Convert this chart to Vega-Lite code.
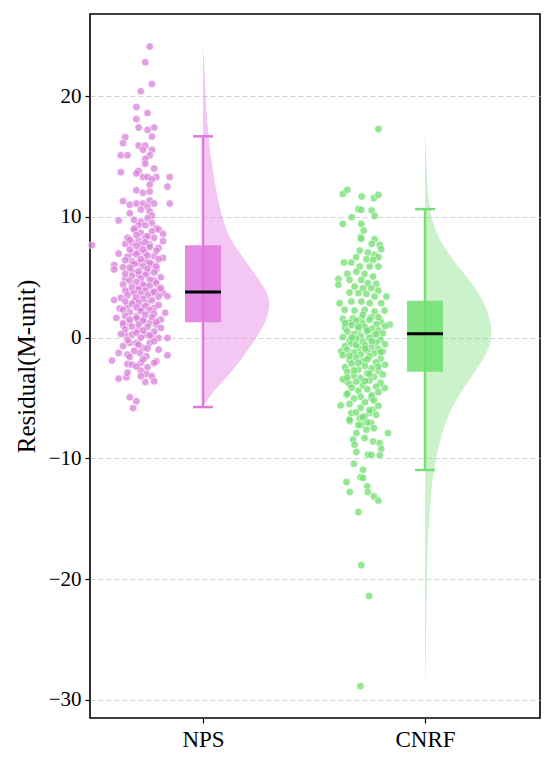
{
  "$schema": "https://vega.github.io/schema/vega-lite/v6.json",
  "description": "Raincloud plot of residuals, NPS vs CNRF",
  "width": 450,
  "height": 704,
  "autosize": "none",
  "padding": {"left": 90, "top": 14, "right": 10, "bottom": 44},
  "background": "white",
  "datasets": {
    "nps_box": [{"lo": -5.75, "q1": 1.28, "med": 3.77, "q3": 7.64, "hi": 16.67}],
    "cnrf_box": [{"lo": -10.96, "q1": -2.82, "med": 0.33, "q3": 3.06, "hi": 10.64}],
    "nps_violin": [
      {"v": -5.75, "w": 0}, {"v": -5.4, "w": 0.012}, {"v": -5.0, "w": 0.026}, {"v": -4.5, "w": 0.046},
      {"v": -4.0, "w": 0.07}, {"v": -3.5, "w": 0.095}, {"v": -3.0, "w": 0.12}, {"v": -2.5, "w": 0.142},
      {"v": -2.0, "w": 0.163}, {"v": -1.5, "w": 0.183}, {"v": -1.0, "w": 0.202}, {"v": -0.5, "w": 0.222},
      {"v": 0.0, "w": 0.24}, {"v": 0.5, "w": 0.257}, {"v": 1.0, "w": 0.272}, {"v": 1.5, "w": 0.285},
      {"v": 2.0, "w": 0.293}, {"v": 2.5, "w": 0.298}, {"v": 3.0, "w": 0.299}, {"v": 3.5, "w": 0.292},
      {"v": 4.0, "w": 0.279}, {"v": 4.5, "w": 0.262}, {"v": 5.0, "w": 0.244}, {"v": 5.5, "w": 0.225},
      {"v": 6.0, "w": 0.205}, {"v": 6.5, "w": 0.186}, {"v": 7.0, "w": 0.166}, {"v": 7.5, "w": 0.147},
      {"v": 8.0, "w": 0.13}, {"v": 8.5, "w": 0.116}, {"v": 9.0, "w": 0.105}, {"v": 9.5, "w": 0.095},
      {"v": 10.0, "w": 0.086}, {"v": 11.0, "w": 0.073}, {"v": 12.0, "w": 0.062}, {"v": 13.0, "w": 0.052},
      {"v": 14.0, "w": 0.043}, {"v": 15.0, "w": 0.035}, {"v": 16.0, "w": 0.029}, {"v": 17.0, "w": 0.024},
      {"v": 18.0, "w": 0.019}, {"v": 19.0, "w": 0.015}, {"v": 20.0, "w": 0.012}, {"v": 21.0, "w": 0.009},
      {"v": 22.0, "w": 0.007}, {"v": 23.0, "w": 0.004}, {"v": 24.2, "w": 0}
    ],
    "cnrf_violin": [
      {"v": -28.9, "w": 0}, {"v": -28.0, "w": 0.002}, {"v": -26.0, "w": 0.004}, {"v": -24.0, "w": 0.005},
      {"v": -22.0, "w": 0.007}, {"v": -20.0, "w": 0.009}, {"v": -18.0, "w": 0.011}, {"v": -17.0, "w": 0.013},
      {"v": -16.0, "w": 0.016}, {"v": -15.0, "w": 0.019}, {"v": -14.0, "w": 0.023}, {"v": -13.0, "w": 0.027},
      {"v": -12.0, "w": 0.032}, {"v": -11.0, "w": 0.04}, {"v": -10.0, "w": 0.05}, {"v": -9.0, "w": 0.062},
      {"v": -8.0, "w": 0.077}, {"v": -7.0, "w": 0.095}, {"v": -6.5, "w": 0.106}, {"v": -6.0, "w": 0.117},
      {"v": -5.5, "w": 0.131}, {"v": -5.0, "w": 0.147}, {"v": -4.5, "w": 0.163}, {"v": -4.0, "w": 0.18},
      {"v": -3.5, "w": 0.2}, {"v": -3.0, "w": 0.218}, {"v": -2.5, "w": 0.236}, {"v": -2.0, "w": 0.254},
      {"v": -1.5, "w": 0.27}, {"v": -1.0, "w": 0.283}, {"v": -0.5, "w": 0.293}, {"v": 0.3, "w": 0.3},
      {"v": 1.0, "w": 0.298}, {"v": 2.0, "w": 0.284}, {"v": 3.0, "w": 0.262}, {"v": 4.0, "w": 0.23},
      {"v": 5.0, "w": 0.19}, {"v": 6.0, "w": 0.145}, {"v": 7.0, "w": 0.105}, {"v": 8.0, "w": 0.07},
      {"v": 9.0, "w": 0.046}, {"v": 10.0, "w": 0.03}, {"v": 11.0, "w": 0.02}, {"v": 12.0, "w": 0.014},
      {"v": 13.0, "w": 0.01}, {"v": 14.0, "w": 0.007}, {"v": 15.0, "w": 0.005}, {"v": 16.0, "w": 0.003},
      {"v": 17.35, "w": 0}
    ],
    "nps_pts": [
      {"v": 24.1, "j": -0.24}, {"v": 22.8, "j": -0.26}, {"v": 21.0, "j": -0.23}, {"v": 20.4, "j": -0.28},
      {"v": 19.1, "j": -0.30}, {"v": 18.6, "j": -0.25}, {"v": 18.1, "j": -0.30}, {"v": 17.4, "j": -0.29},
      {"v": 17.2, "j": -0.25}, {"v": 17.4, "j": -0.22}, {"v": 16.65, "j": -0.23}, {"v": 16.6, "j": -0.35},
      {"v": 16.1, "j": -0.36}, {"v": 15.9, "j": -0.29}, {"v": 15.9, "j": -0.26}, {"v": 15.55, "j": -0.23},
      {"v": 15.55, "j": -0.27}, {"v": 15.1, "j": -0.37}, {"v": 15.1, "j": -0.34}, {"v": 15.1, "j": -0.24},
      {"v": 14.8, "j": -0.26}, {"v": 14.4, "j": -0.26}, {"v": 14.0, "j": -0.22}, {"v": 13.7, "j": -0.37},
      {"v": 13.8, "j": -0.29}, {"v": 13.6, "j": -0.30}, {"v": 13.3, "j": -0.27}, {"v": 13.3, "j": -0.25},
      {"v": 13.3, "j": -0.21}, {"v": 13.3, "j": -0.15}, {"v": 13.1, "j": -0.23}, {"v": 12.5, "j": -0.16},
      {"v": 12.65, "j": -0.24}, {"v": 12.2, "j": -0.30}, {"v": 12.0, "j": -0.27}, {"v": 12.1, "j": -0.24},
      {"v": 11.3, "j": -0.36}, {"v": 11.0, "j": -0.33}, {"v": 11.1, "j": -0.30}, {"v": 11.1, "j": -0.27},
      {"v": 11.35, "j": -0.24}, {"v": 11.1, "j": -0.22}, {"v": 11.1, "j": -0.15}, {"v": 10.85, "j": -0.25},
      {"v": 10.6, "j": -0.28}, {"v": 10.45, "j": -0.24}, {"v": 10.3, "j": -0.33}, {"v": 10.1, "j": -0.23},
      {"v": 9.7, "j": -0.38}, {"v": 9.75, "j": -0.31}, {"v": 9.6, "j": -0.28}, {"v": 9.9, "j": -0.25},
      {"v": 9.5, "j": -0.23}, {"v": 9.3, "j": -0.29}, {"v": 9.3, "j": -0.26}, {"v": 9.06, "j": -0.21},
      {"v": 9.06, "j": -0.31},
      {"v": 7.65, "j": -0.50}, {"v": 8.95, "j": -0.31}, {"v": 8.68, "j": -0.28}, {"v": 8.81, "j": -0.23},
      {"v": 8.95, "j": -0.20}, {"v": 8.59, "j": -0.18}, {"v": 8.26, "j": -0.34}, {"v": 8.04, "j": -0.29},
      {"v": 8.32, "j": -0.26}, {"v": 8.26, "j": -0.22}, {"v": 7.99, "j": -0.18}, {"v": 7.76, "j": -0.35},
      {"v": 7.85, "j": -0.32}, {"v": 7.71, "j": -0.28}, {"v": 7.71, "j": -0.24}, {"v": 7.43, "j": -0.20},
      {"v": 6.96, "j": -0.38}, {"v": 7.02, "j": -0.32}, {"v": 7.10, "j": -0.29}, {"v": 7.02, "j": -0.26},
      {"v": 6.74, "j": -0.22}, {"v": 6.60, "j": -0.18}, {"v": 6.0, "j": -0.40}, {"v": 5.64, "j": -0.40},
      {"v": 5.83, "j": -0.36}, {"v": 6.33, "j": -0.32}, {"v": 6.19, "j": -0.29}, {"v": 6.33, "j": -0.26},
      {"v": 6.05, "j": -0.23}, {"v": 5.64, "j": -0.21}, {"v": 4.89, "j": -0.35}, {"v": 5.50, "j": -0.32},
      {"v": 5.22, "j": -0.29}, {"v": 5.36, "j": -0.25}, {"v": 4.73, "j": -0.22}, {"v": 3.70, "j": -0.18},
      {"v": 3.43, "j": -0.16}, {"v": 3.12, "j": -0.40}, {"v": 3.29, "j": -0.37}, {"v": 3.84, "j": -0.33},
      {"v": 4.12, "j": -0.29}, {"v": 4.26, "j": -0.26}, {"v": 3.70, "j": -0.23}, {"v": 3.98, "j": -0.20},
      {"v": 2.41, "j": -0.375}, {"v": 2.60, "j": -0.34}, {"v": 3.01, "j": -0.31}, {"v": 2.46, "j": -0.28},
      {"v": 2.87, "j": -0.25}, {"v": 2.46, "j": -0.22}, {"v": 2.05, "j": -0.17}, {"v": 1.63, "j": -0.39},
      {"v": 1.02, "j": -0.36}, {"v": 1.22, "j": -0.33}, {"v": 1.77, "j": -0.30}, {"v": 1.49, "j": -0.27},
      {"v": 1.22, "j": -0.24}, {"v": 1.08, "j": -0.21}, {"v": 1.49, "j": -0.19}, {"v": 0.25, "j": -0.35},
      {"v": 0.25, "j": -0.32}, {"v": 0.66, "j": -0.29}, {"v": 0.25, "j": -0.26}, {"v": 0.11, "j": -0.23},
      {"v": -0.03, "j": -0.20}, {"v": -0.03, "j": -0.16}, {"v": -1.90, "j": -0.41}, {"v": -1.27, "j": -0.38},
      {"v": -0.44, "j": -0.33}, {"v": -0.44, "j": -0.30}, {"v": -0.85, "j": -0.27}, {"v": -0.44, "j": -0.24},
      {"v": -0.99, "j": -0.20}, {"v": -1.46, "j": -0.16}, {"v": -1.41, "j": -0.34}, {"v": -1.27, "j": -0.285},
      {"v": -1.55, "j": -0.255}, {"v": -1.96, "j": -0.21}, {"v": -2.18, "j": -0.34}, {"v": -2.24, "j": -0.32},
      {"v": -2.10, "j": -0.28}, {"v": -2.46, "j": -0.25}, {"v": -2.10, "j": -0.22}, {"v": -3.40, "j": -0.38},
      {"v": -3.29, "j": -0.345}, {"v": -2.73, "j": -0.28}, {"v": -3.01, "j": -0.255}, {"v": -3.20, "j": -0.23},
      {"v": -3.67, "j": -0.26}, {"v": -3.62, "j": -0.22}, {"v": -3.20, "j": -0.28}, {"v": -4.94, "j": -0.33},
      {"v": -5.27, "j": -0.30}, {"v": -5.83, "j": -0.315},
      {"v": 8.5, "j": -0.30}, {"v": 8.4, "j": -0.25}, {"v": 8.1, "j": -0.33}, {"v": 7.9, "j": -0.26},
      {"v": 7.6, "j": -0.30}, {"v": 7.5, "j": -0.24}, {"v": 7.3, "j": -0.33}, {"v": 7.3, "j": -0.27},
      {"v": 7.2, "j": -0.21}, {"v": 6.9, "j": -0.30}, {"v": 6.8, "j": -0.25}, {"v": 6.7, "j": -0.34},
      {"v": 6.5, "j": -0.28}, {"v": 6.5, "j": -0.20}, {"v": 6.4, "j": -0.35}, {"v": 6.2, "j": -0.24},
      {"v": 6.1, "j": -0.31}, {"v": 5.9, "j": -0.27}, {"v": 5.9, "j": -0.21}, {"v": 5.8, "j": -0.33},
      {"v": 5.7, "j": -0.25}, {"v": 5.5, "j": -0.29}, {"v": 5.4, "j": -0.22}, {"v": 5.3, "j": -0.35},
      {"v": 5.2, "j": -0.26}, {"v": 5.1, "j": -0.32}, {"v": 5.0, "j": -0.19}, {"v": 4.9, "j": -0.28},
      {"v": 4.8, "j": -0.24}, {"v": 4.7, "j": -0.33}, {"v": 4.6, "j": -0.30}, {"v": 4.5, "j": -0.21},
      {"v": 4.4, "j": -0.36}, {"v": 4.4, "j": -0.27}, {"v": 4.3, "j": -0.24}, {"v": 4.2, "j": -0.32},
      {"v": 4.1, "j": -0.19}, {"v": 4.0, "j": -0.29}, {"v": 3.9, "j": -0.35}, {"v": 3.9, "j": -0.26},
      {"v": 3.8, "j": -0.22}, {"v": 3.7, "j": -0.31}, {"v": 3.6, "j": -0.28}, {"v": 3.5, "j": -0.25},
      {"v": 3.5, "j": -0.34}, {"v": 3.4, "j": -0.20}, {"v": 3.3, "j": -0.30}, {"v": 3.2, "j": -0.27},
      {"v": 3.1, "j": -0.23}, {"v": 3.0, "j": -0.35}, {"v": 2.9, "j": -0.29}, {"v": 2.8, "j": -0.32},
      {"v": 2.7, "j": -0.20}, {"v": 2.6, "j": -0.26}, {"v": 2.5, "j": -0.30}, {"v": 2.3, "j": -0.24},
      {"v": 2.3, "j": -0.36}, {"v": 2.2, "j": -0.28}, {"v": 2.1, "j": -0.33}, {"v": 2.0, "j": -0.22},
      {"v": 1.9, "j": -0.26}, {"v": 1.8, "j": -0.35}, {"v": 1.7, "j": -0.23}, {"v": 1.6, "j": -0.30},
      {"v": 1.5, "j": -0.33}, {"v": 1.4, "j": -0.27}, {"v": 1.3, "j": -0.21}, {"v": 1.2, "j": -0.36},
      {"v": 1.1, "j": -0.29}, {"v": 0.9, "j": -0.25}, {"v": 0.9, "j": -0.32}, {"v": 0.8, "j": -0.19},
      {"v": 0.7, "j": -0.35}, {"v": 0.6, "j": -0.27}, {"v": 0.5, "j": -0.22}, {"v": 0.4, "j": -0.30},
      {"v": 0.3, "j": -0.37}, {"v": 0.2, "j": -0.24}, {"v": 0.0, "j": -0.28}, {"v": -0.2, "j": -0.34},
      {"v": -0.3, "j": -0.22}, {"v": -0.6, "j": -0.29}, {"v": -0.7, "j": -0.36}, {"v": -0.9, "j": -0.25},
      {"v": -1.1, "j": -0.31}, {"v": -1.6, "j": -0.33}, {"v": -1.8, "j": -0.27}, {"v": -2.4, "j": -0.30},
      {"v": -2.9, "j": -0.34}
    ],
    "cnrf_pts": [
      {"v": 17.27, "j": -0.21}, {"v": 11.9, "j": -0.37}, {"v": 12.24, "j": -0.35}, {"v": 11.69, "j": -0.285},
      {"v": 11.55, "j": -0.23}, {"v": 11.82, "j": -0.21}, {"v": 10.64, "j": -0.30}, {"v": 10.58, "j": -0.287},
      {"v": 10.53, "j": -0.24}, {"v": 9.97, "j": -0.33}, {"v": 10.08, "j": -0.227}, {"v": 9.42, "j": -0.37},
      {"v": 9.42, "j": -0.287}, {"v": 8.87, "j": -0.276}, {"v": 8.32, "j": -0.29}, {"v": 8.18, "j": -0.287},
      {"v": 8.15, "j": -0.227}, {"v": 7.76, "j": -0.24}, {"v": 7.68, "j": -0.204}, {"v": 7.32, "j": -0.197},
      {"v": 7.21, "j": -0.294}, {"v": 7.05, "j": -0.257}, {"v": 6.85, "j": -0.227}, {"v": 6.66, "j": -0.31},
      {"v": 6.66, "j": -0.21}, {"v": 6.22, "j": -0.365}, {"v": 6.22, "j": -0.332}, {"v": 6.49, "j": -0.264},
      {"v": 6.44, "j": -0.234}, {"v": 5.89, "j": -0.294}, {"v": 5.89, "j": -0.249}, {"v": 5.89, "j": -0.21},
      {"v": 5.28, "j": -0.35}, {"v": 5.47, "j": -0.309}, {"v": 5.28, "j": -0.272}, {"v": 5.06, "j": -0.234},
      {"v": 4.84, "j": -0.39}, {"v": 4.78, "j": -0.34}, {"v": 4.78, "j": -0.287}, {"v": 4.51, "j": -0.257},
      {"v": 4.45, "j": -0.22}, {"v": 4.37, "j": -0.39}, {"v": 4.23, "j": -0.317}, {"v": 4.09, "j": -0.28},
      {"v": 4.09, "j": -0.242}, {"v": 3.90, "j": -0.21}, {"v": 3.73, "j": -0.34}, {"v": 3.68, "j": -0.30},
      {"v": 3.62, "j": -0.264}, {"v": 3.40, "j": -0.227}, {"v": 3.40, "j": -0.174}, {"v": 2.85, "j": -0.385},
      {"v": 2.99, "j": -0.332}, {"v": 2.99, "j": -0.287}, {"v": 2.85, "j": -0.249}, {"v": 2.85, "j": -0.197},
      {"v": 2.30, "j": -0.362}, {"v": 2.24, "j": -0.317}, {"v": 2.30, "j": -0.272}, {"v": 2.16, "j": -0.227},
      {"v": 2.24, "j": -0.182}, {"v": 1.60, "j": -0.324}, {"v": 1.60, "j": -0.287}, {"v": 1.69, "j": -0.242},
      {"v": -5.61, "j": -0.38}, {"v": -7.9, "j": -0.167}, {"v": -7.9, "j": -0.309}, {"v": -8.45, "j": -0.324},
      {"v": -8.32, "j": -0.272}, {"v": -8.6, "j": -0.234}, {"v": -8.73, "j": -0.204}, {"v": -8.87, "j": -0.317},
      {"v": -9.2, "j": -0.197}, {"v": -9.48, "j": -0.309}, {"v": -9.7, "j": -0.257}, {"v": -9.7, "j": -0.242},
      {"v": -9.75, "j": -0.204}, {"v": -10.44, "j": -0.32}, {"v": -10.94, "j": -0.279}, {"v": -11.57, "j": -0.29},
      {"v": -11.62, "j": -0.279}, {"v": -11.96, "j": -0.354}, {"v": -12.32, "j": -0.26}, {"v": -12.79, "j": -0.339},
      {"v": -12.79, "j": -0.257}, {"v": -13.15, "j": -0.23}, {"v": -13.5, "j": -0.21}, {"v": -14.45, "j": -0.30},
      {"v": -18.84, "j": -0.287}, {"v": -21.4, "j": -0.252}, {"v": -28.86, "j": -0.291},
      {"v": -1.13, "j": -0.377}, {"v": -3.62, "j": -0.354}, {"v": -4.72, "j": -0.354}, {"v": -6.24, "j": -0.332},
      {"v": -6.93, "j": -0.339}, {"v": -4.17, "j": -0.182}, {"v": 1.08, "j": -0.159},
      {"v": -5.0, "j": -0.242}, {"v": -5.97, "j": -0.234}, {"v": -6.24, "j": -0.249}, {"v": -6.52, "j": -0.272},
      {"v": -6.66, "j": -0.294}, {"v": -7.21, "j": -0.287}, {"v": -7.07, "j": -0.242}, {"v": -7.62, "j": -0.264},
      {"v": 1.55, "j": -0.37}, {"v": 1.47, "j": -0.25}, {"v": 1.40, "j": -0.31}, {"v": 1.33, "j": -0.20},
      {"v": 1.25, "j": -0.34}, {"v": 1.18, "j": -0.28}, {"v": 1.10, "j": -0.22}, {"v": 1.03, "j": -0.33},
      {"v": 0.95, "j": -0.18}, {"v": 0.88, "j": -0.27}, {"v": 0.80, "j": -0.36}, {"v": 0.73, "j": -0.24},
      {"v": 0.65, "j": -0.30}, {"v": 0.58, "j": -0.21}, {"v": 0.50, "j": -0.35}, {"v": 0.43, "j": -0.26},
      {"v": 0.35, "j": -0.19}, {"v": 0.28, "j": -0.32}, {"v": 0.20, "j": -0.23}, {"v": 0.13, "j": -0.29},
      {"v": 0.05, "j": -0.37}, {"v": -0.03, "j": -0.25}, {"v": -0.10, "j": -0.31}, {"v": -0.18, "j": -0.20},
      {"v": -0.25, "j": -0.34}, {"v": -0.33, "j": -0.28}, {"v": -0.40, "j": -0.22}, {"v": -0.48, "j": -0.33},
      {"v": -0.55, "j": -0.18}, {"v": -0.63, "j": -0.27}, {"v": -0.70, "j": -0.36}, {"v": -0.78, "j": -0.24},
      {"v": -0.85, "j": -0.30}, {"v": -0.93, "j": -0.21}, {"v": -1.00, "j": -0.35}, {"v": -1.08, "j": -0.26},
      {"v": -1.15, "j": -0.19}, {"v": -1.23, "j": -0.32}, {"v": -1.30, "j": -0.23}, {"v": -1.38, "j": -0.29},
      {"v": -1.45, "j": -0.37}, {"v": -1.55, "j": -0.25}, {"v": -1.65, "j": -0.31}, {"v": -1.75, "j": -0.20},
      {"v": -1.85, "j": -0.34}, {"v": -1.95, "j": -0.28}, {"v": -2.05, "j": -0.22}, {"v": -2.15, "j": -0.33},
      {"v": -2.25, "j": -0.18}, {"v": -2.35, "j": -0.27}, {"v": -2.45, "j": -0.36}, {"v": -2.55, "j": -0.24},
      {"v": -2.65, "j": -0.30}, {"v": -2.75, "j": -0.21}, {"v": -2.85, "j": -0.35}, {"v": -2.95, "j": -0.26},
      {"v": -3.05, "j": -0.19}, {"v": -3.15, "j": -0.32}, {"v": -3.25, "j": -0.23}, {"v": -3.35, "j": -0.29},
      {"v": -3.45, "j": -0.37}, {"v": -3.55, "j": -0.25}, {"v": -3.65, "j": -0.31}, {"v": -3.75, "j": -0.20},
      {"v": -3.85, "j": -0.34}, {"v": -3.95, "j": -0.28}, {"v": -4.05, "j": -0.22}, {"v": -4.15, "j": -0.33},
      {"v": -4.28, "j": -0.26}, {"v": -4.40, "j": -0.30}, {"v": -4.52, "j": -0.21}, {"v": -4.65, "j": -0.35},
      {"v": -4.78, "j": -0.24}, {"v": -4.90, "j": -0.29}, {"v": -5.05, "j": -0.32}, {"v": -5.20, "j": -0.23},
      {"v": -5.35, "j": -0.27}, {"v": -5.50, "j": -0.34}, {"v": -5.65, "j": -0.21}, {"v": -5.80, "j": -0.29},
      {"v": -6.00, "j": -0.25}, {"v": -6.20, "j": -0.31}, {"v": -6.40, "j": -0.22}, {"v": -6.60, "j": -0.28},
      {"v": -6.80, "j": -0.34}, {"v": -7.00, "j": -0.26}, {"v": -7.25, "j": -0.30}, {"v": -7.50, "j": -0.23},
      {"v": 1.90, "j": -0.28}, {"v": 1.70, "j": -0.21}, {"v": 1.20, "j": -0.36}, {"v": 0.90, "j": -0.30},
      {"v": 0.60, "j": -0.26}, {"v": 0.30, "j": -0.22}, {"v": 0.00, "j": -0.33}, {"v": -0.30, "j": -0.24},
      {"v": -0.60, "j": -0.31}, {"v": -0.90, "j": -0.27}, {"v": -1.20, "j": -0.20}, {"v": -1.50, "j": -0.34},
      {"v": -1.80, "j": -0.26}, {"v": -2.10, "j": -0.30}, {"v": -2.40, "j": -0.21}, {"v": -2.70, "j": -0.32},
      {"v": -3.00, "j": -0.25}, {"v": -3.30, "j": -0.35}, {"v": -3.60, "j": -0.27}
    ]
  },
  "layer": [
    {
      "layer": [
        {
          "data": {"name": "nps_violin"},
          "mark": {"type": "area", "orient": "horizontal", "color": "#E680E6", "opacity": 0.45},
          "encoding": {
            "y": {
              "field": "v", "type": "quantitative",
              "scale": {"domain": [-31.5, 26.8], "nice": false, "zero": false},
              "axis": {
                "values": [-30, -20, -10, 0, 10, 20],
                "title": "Residual(M-unit)",
                "grid": true, "gridDash": [5, 3], "gridColor": "#c8c8c8", "gridWidth": 0.8,
                "domain": false, "tickColor": "black", "tickSize": 5, "tickWidth": 1.2,
                "labelFontSize": 21, "labelPadding": 4, "titleFontSize": 25, "titlePadding": 9
              }
            },
            "x": {
              "field": "w", "type": "quantitative",
              "scale": {"domain": [-0.509, 1.518], "nice": false, "zero": false},
              "axis": {
                "values": [0, 1],
                "labelExpr": "datum.value == 0 ? 'NPS' : 'CNRF'",
                "title": null, "grid": false, "domain": false,
                "tickColor": "black", "tickSize": 5, "tickWidth": 1.2,
                "labelFontSize": 23, "labelPadding": 5
              }
            },
            "x2": {"datum": 0}
          }
        },
        {
          "data": {"name": "nps_box"},
          "mark": {"type": "rule", "color": "#DD7ADD", "strokeWidth": 2.5},
          "encoding": {
            "x": {"datum": 0, "type": "quantitative", "scale": {"domain": [-0.509, 1.518], "nice": false, "zero": false}},
            "y": {"field": "lo", "type": "quantitative"},
            "y2": {"field": "hi"}
          }
        },
        {
          "data": {"name": "nps_box"},
          "mark": {"type": "rule", "color": "#DD7ADD", "strokeWidth": 2.5},
          "encoding": {
            "x": {"datum": -0.045, "type": "quantitative"},
            "x2": {"datum": 0.045},
            "y": {"field": "lo", "type": "quantitative"}
          }
        },
        {
          "data": {"name": "nps_box"},
          "mark": {"type": "rule", "color": "#DD7ADD", "strokeWidth": 2.5},
          "encoding": {
            "x": {"datum": -0.045, "type": "quantitative"},
            "x2": {"datum": 0.045},
            "y": {"field": "hi", "type": "quantitative"}
          }
        },
        {
          "data": {"name": "nps_box"},
          "mark": {"type": "rect", "color": "#DF75DF", "opacity": 0.85},
          "encoding": {
            "x": {"datum": -0.081, "type": "quantitative"},
            "x2": {"datum": 0.081},
            "y": {"field": "q1", "type": "quantitative"},
            "y2": {"field": "q3"}
          }
        },
        {
          "data": {"name": "nps_box"},
          "mark": {"type": "rule", "color": "black", "strokeWidth": 3},
          "encoding": {
            "x": {"datum": -0.081, "type": "quantitative"},
            "x2": {"datum": 0.081},
            "y": {"field": "med", "type": "quantitative"}
          }
        },
        {
          "data": {"name": "nps_pts"},
          "mark": {"type": "circle", "size": 58, "color": "#DA7FDA", "opacity": 0.75, "stroke": "white", "strokeWidth": 0.7},
          "encoding": {
            "x": {"field": "j", "type": "quantitative"},
            "y": {"field": "v", "type": "quantitative"}
          }
        }
      ]
    },
    {
      "layer": [
        {
          "data": {"name": "cnrf_violin"},
          "mark": {"type": "area", "orient": "horizontal", "color": "#7DE27D", "opacity": 0.4},
          "encoding": {
            "y": {"field": "v", "type": "quantitative"},
            "x": {
              "field": "w", "type": "quantitative",
              "scale": {"domain": [-1.509, 0.518], "nice": false, "zero": false},
              "axis": null
            },
            "x2": {"datum": 0}
          }
        },
        {
          "data": {"name": "cnrf_box"},
          "mark": {"type": "rule", "color": "#78DF78", "strokeWidth": 2.5},
          "encoding": {
            "x": {"datum": 0, "type": "quantitative", "axis": null},
            "y": {"field": "lo", "type": "quantitative"},
            "y2": {"field": "hi"}
          }
        },
        {
          "data": {"name": "cnrf_box"},
          "mark": {"type": "rule", "color": "#78DF78", "strokeWidth": 2.5},
          "encoding": {
            "x": {"datum": -0.045, "type": "quantitative", "axis": null},
            "x2": {"datum": 0.045},
            "y": {"field": "lo", "type": "quantitative"}
          }
        },
        {
          "data": {"name": "cnrf_box"},
          "mark": {"type": "rule", "color": "#78DF78", "strokeWidth": 2.5},
          "encoding": {
            "x": {"datum": -0.045, "type": "quantitative", "axis": null},
            "x2": {"datum": 0.045},
            "y": {"field": "hi", "type": "quantitative"}
          }
        },
        {
          "data": {"name": "cnrf_box"},
          "mark": {"type": "rect", "color": "#70E170", "opacity": 0.85},
          "encoding": {
            "x": {"datum": -0.081, "type": "quantitative", "axis": null},
            "x2": {"datum": 0.081},
            "y": {"field": "q1", "type": "quantitative"},
            "y2": {"field": "q3"}
          }
        },
        {
          "data": {"name": "cnrf_box"},
          "mark": {"type": "rule", "color": "black", "strokeWidth": 3},
          "encoding": {
            "x": {"datum": -0.081, "type": "quantitative", "axis": null},
            "x2": {"datum": 0.081},
            "y": {"field": "med", "type": "quantitative"}
          }
        },
        {
          "data": {"name": "cnrf_pts"},
          "mark": {"type": "circle", "size": 58, "color": "#6FDF6F", "opacity": 0.75, "stroke": "white", "strokeWidth": 0.7},
          "encoding": {
            "x": {"field": "j", "type": "quantitative", "axis": null},
            "y": {"field": "v", "type": "quantitative"}
          }
        }
      ]
    }
  ],
  "resolve": {"scale": {"x": "independent"}, "axis": {"x": "independent"}},
  "config": {
    "view": {"stroke": "black", "strokeWidth": 1.6},
    "font": "Liberation Serif",
    "axis": {
      "labelFont": "Liberation Serif",
      "titleFont": "Liberation Serif",
      "labelColor": "black",
      "titleColor": "black",
      "titleFontWeight": "normal"
    }
  }
}
